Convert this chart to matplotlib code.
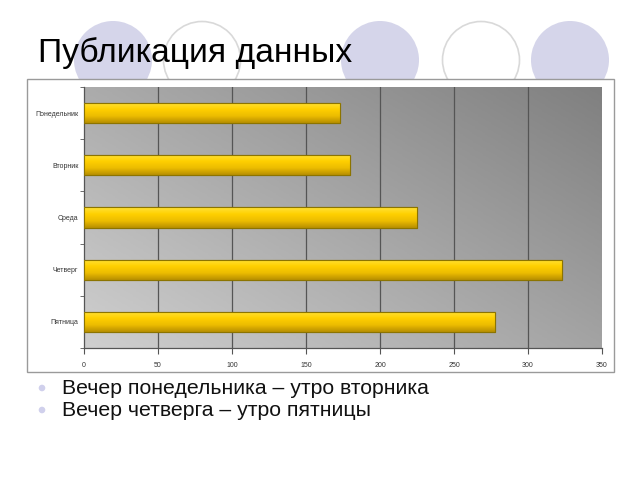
import numpy as np
import matplotlib
matplotlib.use('Agg')
import matplotlib.pyplot as plt
from matplotlib.patches import Circle, Rectangle
from matplotlib.colors import LinearSegmentedColormap

plt.rcParams['font.family'] = ['Liberation Sans', 'DejaVu Sans']

# Данные диаграммы
days = ['Понедельник', 'Вторник', 'Среда', 'Четверг', 'Пятница']
values = [173, 180, 225, 323, 278]
xticks = [0, 50, 100, 150, 200, 250, 300, 350]

title = 'Публикация данных'
bullets = ['Вечер понедельника – утро вторника',
           'Вечер четверга – утро пятницы']

fig = plt.figure(figsize=(6.4, 4.8), dpi=100)

# Фон слайда: декоративные круги, заголовок, рамка диаграммы
bg = fig.add_axes([0, 0, 1, 1], zorder=0)
bg.set_xlim(0, 640)
bg.set_ylim(480, 0)
bg.axis('off')

circle_x = [113, 202, 380, 481, 570]
circle_filled = [True, False, True, False, True]
for cx, filled in zip(circle_x, circle_filled):
    if filled:
        bg.add_patch(Circle((cx, 60), 39, facecolor='#d5d5ea', edgecolor='none'))
    else:
        bg.add_patch(Circle((cx, 60), 38.5, facecolor='white', edgecolor='#d9d9d9', linewidth=1.2))

bg.text(38, 62, title, fontsize=24.2, color='black', va='baseline', ha='left')

bg.add_patch(Rectangle((27, 79), 587, 293, facecolor='white', edgecolor='#9a9a9a', linewidth=1))

for i, b in enumerate(bullets):
    y = 388 + i * 22
    bg.add_patch(Circle((42, y), 3.3, facecolor='#d0d0ec', edgecolor='none'))
    bg.text(62, y, b, fontsize=15.3, color='#111111', va='center', ha='left')

# Диаграмма
ax = fig.add_axes([84 / 640, 1 - 348 / 480, 518 / 640, 261 / 480], zorder=2)
ax.set_xlim(0, 350)
ax.set_ylim(len(days) - 0.5, -0.5)

# Градиент фона области построения: светлее слева внизу, темнее справа вверху
gx, gy = np.meshgrid(np.linspace(0, 1, 200), np.linspace(0, 1, 200))
grad = 0.55 * gx + 0.45 * (1 - gy)
bg_cmap = LinearSegmentedColormap.from_list('bggrad', ['#cfcfcf', '#808080'])
ax.imshow(grad, cmap=bg_cmap, extent=[0, 350, len(days) - 0.5, -0.5],
          aspect='auto', origin='upper', zorder=0)

for t in xticks[1:-1]:
    ax.axvline(t, color='#555555', linewidth=0.9, zorder=1)

ypos = np.arange(len(days))
bars = ax.barh(ypos, values, height=0.39, color='#f0c400',
               edgecolor='#8c7400', linewidth=0.8, zorder=2)

# Золотой градиент на полосах
bar_cmap = LinearSegmentedColormap.from_list('gold', ['#ffe23a', '#ffd000', '#ecbc00', '#b88f00'])
vgrad = np.linspace(0, 1, 64).reshape(-1, 1)
for bar in bars:
    bb = bar.get_bbox()
    im = ax.imshow(vgrad, cmap=bar_cmap, extent=[bb.x0, bb.x1, bb.y1, bb.y0],
                   aspect='auto', origin='upper', zorder=3)
    im.set_clip_path(bar)
    ax.add_patch(Rectangle((bb.x0, bb.y0), bb.width, bb.height, fill=False,
                           edgecolor='#8c7400', linewidth=0.8, zorder=4))

ax.set_xticks(xticks)
ax.set_xticklabels([str(t) for t in xticks])
ax.set_yticks(ypos)
ax.set_yticklabels(days)
ax.set_yticks(np.arange(len(days) + 1) - 0.5, minor=True)
ax.tick_params(axis='y', which='major', length=0, labelsize=5, colors='#333333', pad=4)
ax.tick_params(axis='y', which='minor', length=3, color='#555555', direction='out')
ax.tick_params(axis='x', length=4, labelsize=5, colors='#333333', color='#555555', pad=6)

for s in ['top', 'right']:
    ax.spines[s].set_visible(False)
for s in ['left', 'bottom']:
    ax.spines[s].set_color('#555555')
    ax.spines[s].set_linewidth(0.9)

plt.savefig('out.png', dpi=100)
